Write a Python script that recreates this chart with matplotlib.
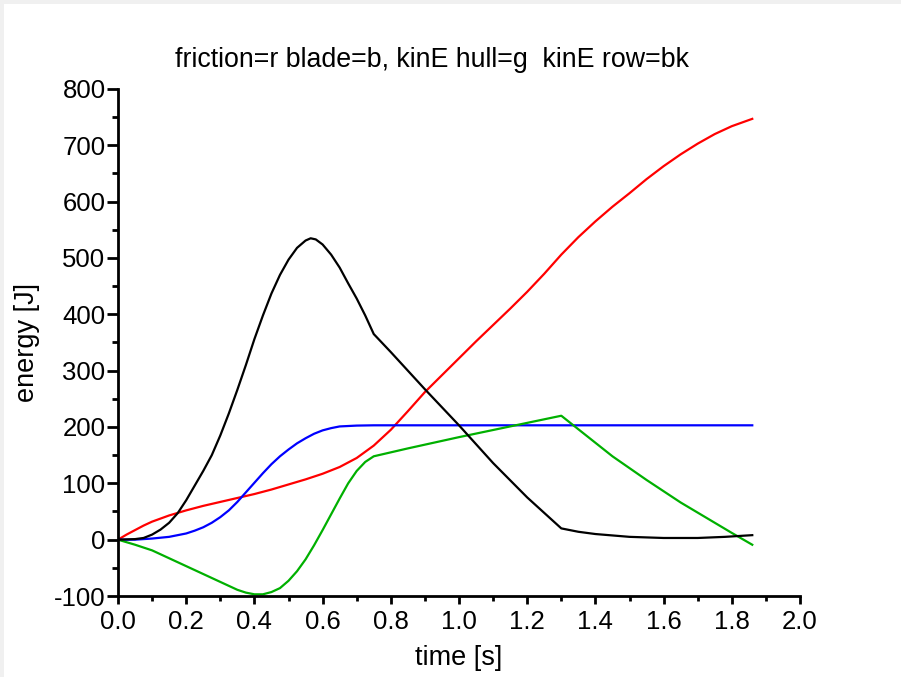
import matplotlib
matplotlib.use("Agg")
import matplotlib.pyplot as plt
from matplotlib.patches import Rectangle
from matplotlib.ticker import MultipleLocator

plt.rcParams['font.family'] = ['Liberation Sans', 'DejaVu Sans']

# kinetic energy of rower (black)
t_row = [0, 0.05, 0.075, 0.1, 0.125, 0.15, 0.175, 0.2, 0.225, 0.25, 0.275, 0.3, 0.325,
         0.35, 0.375, 0.4, 0.425, 0.45, 0.475, 0.5, 0.525, 0.55, 0.565, 0.58, 0.6,
         0.625, 0.65, 0.675, 0.7, 0.725, 0.75, 0.8, 0.9, 1.0, 1.1, 1.2, 1.3, 1.35,
         1.4, 1.5, 1.6, 1.7, 1.78, 1.86]
e_row = [0, 1, 3, 9, 18, 30, 47, 70, 96, 122, 150, 185, 224,
         266, 310, 356, 398, 437, 470, 497, 518, 531, 535, 533, 524,
         506, 483, 455, 428, 398, 365, 333, 267, 203, 136, 75, 20, 14,
         10, 5, 3, 3, 5, 8]

# friction (red)
t_fric = [0, 0.025, 0.05, 0.075, 0.1, 0.15, 0.2, 0.25, 0.3, 0.35, 0.4, 0.45, 0.5,
          0.55, 0.6, 0.65, 0.7, 0.75, 0.8, 0.85, 0.9, 0.95, 1.0, 1.05, 1.1, 1.15,
          1.2, 1.25, 1.3, 1.35, 1.4, 1.45, 1.5, 1.55, 1.6, 1.65, 1.7, 1.75, 1.8, 1.86]
e_fric = [0, 9, 17, 25, 32, 43, 52, 60, 67, 74, 81, 89, 98,
          107, 117, 129, 145, 167, 195, 228, 262, 292, 322, 352, 381, 410,
          440, 472, 506, 537, 565, 591, 615, 640, 663, 684, 703, 720, 734, 747]

# blade (blue)
t_blade = [0, 0.05, 0.1, 0.15, 0.2, 0.225, 0.25, 0.275, 0.3, 0.325, 0.35, 0.375, 0.4,
           0.425, 0.45, 0.475, 0.5, 0.525, 0.55, 0.575, 0.6, 0.625, 0.65, 0.7, 0.75, 1.86]
e_blade = [0, 0, 2, 5, 11, 16, 22, 30, 40, 52, 67, 84, 101,
           118, 134, 148, 160, 171, 180, 188, 194, 198, 201, 202.5, 203, 203]

# kinetic energy of hull (green)
t_hull = [0, 0.05, 0.1, 0.15, 0.2, 0.25, 0.3, 0.325, 0.35, 0.375, 0.4, 0.425, 0.45,
          0.475, 0.5, 0.525, 0.55, 0.575, 0.6, 0.625, 0.65, 0.675, 0.7, 0.725, 0.75,
          0.85, 1.0, 1.15, 1.3, 1.35, 1.4, 1.45, 1.5, 1.55, 1.6, 1.65, 1.7, 1.75, 1.8, 1.86]
e_hull = [0, -9, -19, -33, -47, -61, -75, -82, -89, -94, -97, -97, -93,
          -86, -73, -56, -35, -10, 17, 45, 73, 100, 122, 138, 148,
          162, 182, 201, 220, 196, 172, 148, 127, 106, 86, 66, 48, 30, 12, -9]

x_ticks = [0.0, 0.2, 0.4, 0.6, 0.8, 1.0, 1.2, 1.4, 1.6, 1.8, 2.0]
y_ticks = [-100, 0, 100, 200, 300, 400, 500, 600, 700, 800]

fig = plt.figure(figsize=(9.01, 6.77), dpi=100)
fig.patch.set_facecolor('white')
# light grey frame strips (top & left)
fig.patches.append(Rectangle((0, 1 - 4 / 677), 1, 4 / 677, transform=fig.transFigure,
                             facecolor='#f0f0f0', edgecolor='none', zorder=-1))
fig.patches.append(Rectangle((0, 0), 4 / 901, 1, transform=fig.transFigure,
                             facecolor='#f0f0f0', edgecolor='none', zorder=-1))

ax = fig.add_axes([118 / 901, 1 - 596 / 677, (800 - 118) / 901, (596 - 89) / 677])

lw = 1.6
ax.plot(t_fric, e_fric, color='#ff0000', lw=lw)
ax.plot(t_blade, e_blade, color='#0000ff', lw=lw)
ax.plot(t_hull, e_hull, color='#00b000', lw=lw)
ax.plot(t_row, e_row, color='black', lw=lw)

ax.set_xlim(0, 2.0)
ax.set_ylim(-100, 800)
ax.set_xticks(x_ticks)
ax.set_xticklabels([f"{v:.1f}" for v in x_ticks])
ax.set_yticks(y_ticks)
ax.set_yticklabels([str(v) for v in y_ticks])
ax.xaxis.set_minor_locator(MultipleLocator(0.1))
ax.yaxis.set_minor_locator(MultipleLocator(50))

for s in ['top', 'right']:
    ax.spines[s].set_visible(False)
for s in ['left', 'bottom']:
    ax.spines[s].set_linewidth(2.0)

ax.tick_params(axis='x', which='major', length=6, width=2.0, direction='out',
               labelsize=18.5, pad=4)
ax.tick_params(axis='x', which='minor', length=3.5, width=2.0, direction='out')
ax.tick_params(axis='y', which='major', length=8, width=2.0, direction='out',
               labelsize=18.5, pad=1)
ax.tick_params(axis='y', which='minor', length=4, width=2.0, direction='out')

ax.set_xlabel('time [s]', fontsize=19.5, labelpad=8)
ax.set_ylabel('energy [J]', fontsize=19.5, labelpad=10)
fig.text(432 / 901, 1 - 60 / 677, 'friction=r blade=b, kinE hull=g  kinE row=bk',
         ha='center', va='center', fontsize=19.3)

fig.savefig('out.png', dpi=100)
